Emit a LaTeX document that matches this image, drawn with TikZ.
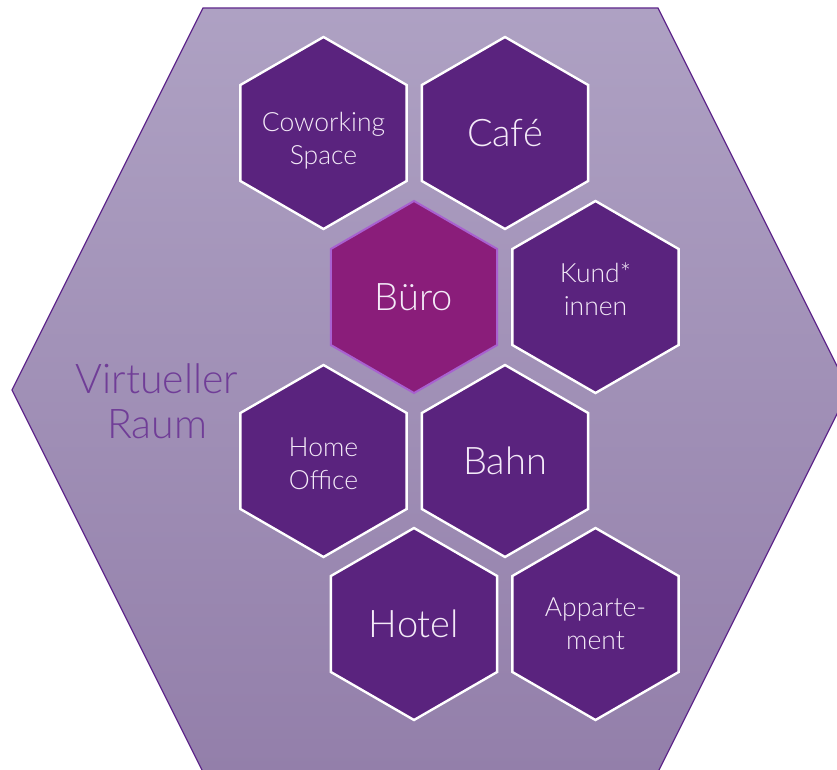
\documentclass[tikz,border=0pt]{standalone}
\usepackage{fontspec}
\setmainfont{Lato Light}
\usetikzlibrary{shapes.geometric}

\definecolor{wabenlila}{RGB}{90,35,126}
\definecolor{buerolila}{RGB}{138,29,122}
\definecolor{buerorand}{RGB}{168,96,208}
\definecolor{raumoben}{RGB}{174,161,195}
\definecolor{raumunten}{RGB}{147,127,170}
\definecolor{raumrand}{RGB}{96,40,140}
\definecolor{wabenschrift}{RGB}{244,234,248}

\tikzset{
  wabe/.style={regular polygon, regular polygon sides=6, shape border rotate=30,
    minimum size=192pt, inner sep=0pt, fill=wabenlila, draw=white,
    line width=2.4pt, text=wabenschrift, align=center},
  buerowabe/.style={wabe, fill=buerolila, draw=buerorand, line width=2pt},
  klein/.style={font=\fontsize{26.5}{33}\selectfont},
  gross/.style={font=\fontsize{38}{40}\selectfont}
}

\begin{document}
\begin{tikzpicture}[x=1pt,y=-1pt]
        \useasboundingbox (0,0) rectangle (837,770);
        \clip (0,0) rectangle (837,770);
        % virtueller Raum
        \draw[raumrand, line width=1.2pt, top color=raumoben, bottom color=raumunten]
            (12,390) -- (203,8) -- (658,8) -- (849,390) -- (658,772) -- (203,772) -- cycle;
        \node[text=raumrand!90, align=center, font=\fontsize{41}{45}\selectfont] (raum) at (157,401) {Virtueller\\Raum};
        % Waben (Textversatz in pt)
        \foreach \name/\x/\y/\stil/\versatz/\labeltext in {cowork/323.5/133/klein/-8/{Coworking\\Space}, cafe/505/133/gross/0/Café,
            kunden/595.5/297/klein/8/{Kund*\\innen}, homeoffice/323.5/461/klein/-3/{Home\\Office},
            bahn/505/461/gross/0/Bahn, hotel/414/624/gross/0/Hotel, appartement/595.5/624/klein/0/{Apparte-\\ment}}{
            \node[wabe, \stil] (\name) at (\x,\y) {};
            \node[text=wabenschrift, align=center, \stil] (\name-text) at ([yshift=\versatz pt]\name.center) {\labeltext};
        }
        \node[buerowabe, gross] (buero) at (414,297) {Büro};
    \end{tikzpicture}
\end{document}
